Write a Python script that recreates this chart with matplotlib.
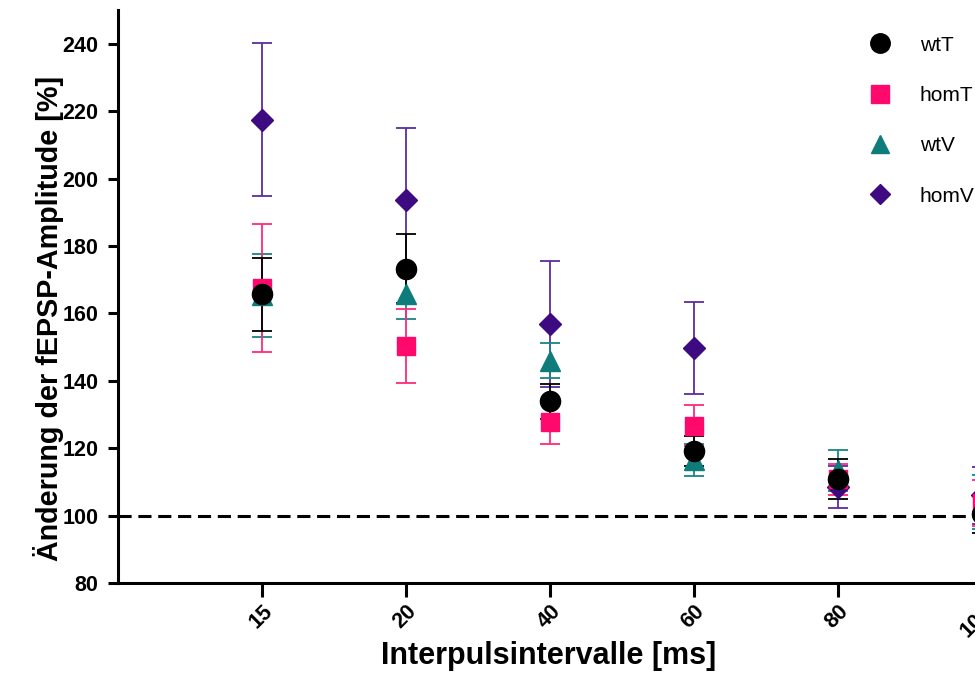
import matplotlib.pyplot as plt
from matplotlib.lines import Line2D

plt.rcParams['font.family'] = ['Liberation Sans', 'DejaVu Sans']

# intervals (ms)
intervals = ['15', '20', '40', '60', '80', '100']

# mean values and error (SEM) for each group
wtT_mean = [165.7, 173.3, 133.9, 119.1, 110.8, 100.5]
wtT_err = [10.8, 10.3, 5.1, 4.4, 6.0, 5.6]
homT_mean = [167.5, 150.4, 127.7, 126.7, 110.8, 103.8]
homT_err = [19.0, 11.0, 6.6, 6.2, 4.6, 6.9]
wtV_mean = [165.3, 165.7, 146.0, 116.4, 113.4, 104.0]
wtV_err = [12.3, 7.4, 5.2, 4.8, 6.0, 8.0]
homV_mean = [217.5, 193.6, 156.8, 149.7, 108.5, 106.0]
homV_err = [22.6, 21.4, 18.7, 13.6, 6.2, 8.4]

groups = [
    ('homV', homV_mean, homV_err, 'D', '#3d0a82', '#5b2ca0', 11),
    ('wtV', wtV_mean, wtV_err, '^', '#0e7c7b', '#1a8584', 14),
    ('homT', homT_mean, homT_err, 's', '#ff0a6c', '#ff2a7c', 13),
    ('wtT', wtT_mean, wtT_err, 'o', 'black', 'black', 14.5),
]

fig = plt.figure(figsize=(9.75, 6.75), dpi=100)
ax = fig.add_axes([118 / 975, 92 / 675, 936 / 975, 573 / 675])

x = list(range(len(intervals)))
ax.axhline(100, color='black', lw=2.2, linestyle=(0, (4.3, 2.2)), zorder=1)

for name, mean, err, mk, col, ecol, ms in groups:
    ax.errorbar(x, mean, yerr=err, fmt=mk, color=col, ecolor=ecol, ms=ms,
                mec=col, elinewidth=1.3, capsize=7.2, capthick=1.3, zorder=3)

ax.set_xlim(-1, 5.5)
ax.set_ylim(80, 250)
ax.set_yticks(range(80, 241, 20))
ax.set_xticks(x)
ax.set_xticklabels(intervals, rotation=45, ha='right', rotation_mode='anchor',
                   fontweight='bold', fontsize=15.5)
for lbl in ax.get_yticklabels():
    lbl.set_fontweight('bold')
    lbl.set_fontsize(15.5)

for s in ['top', 'right']:
    ax.spines[s].set_visible(False)
for s in ['left', 'bottom']:
    ax.spines[s].set_linewidth(2.2)
ax.tick_params(axis='y', length=7, width=2.2, pad=7)
ax.tick_params(axis='x', length=10, width=2.2, pad=3)

ax.set_xlabel('Interpulsintervalle [ms]', fontsize=22, fontweight='bold')
ax.xaxis.set_label_coords(0.4605, -0.102)
ax.set_ylabel('Änderung der fEPSP-Amplitude [%]', fontsize=20.7, fontweight='bold')
ax.yaxis.set_label_coords(-0.058, 0.4625)

handles = [
    Line2D([], [], ls='none', marker='o', color='black', ms=14),
    Line2D([], [], ls='none', marker='s', color='#ff0a6c', ms=13),
    Line2D([], [], ls='none', marker='^', color='#0e7c7b', ms=13),
    Line2D([], [], ls='none', marker='D', color='#3d0a82', ms=10),
]
fig.legend(handles, ['wtT', 'homT', 'wtV', 'homV'], loc='upper left',
           bbox_to_anchor=(849 / 975, 1 - 17 / 675), frameon=False,
           fontsize=15, labelspacing=1.5, handletextpad=1.3, handlelength=1.2)

fig.savefig('out.png', dpi=100)
